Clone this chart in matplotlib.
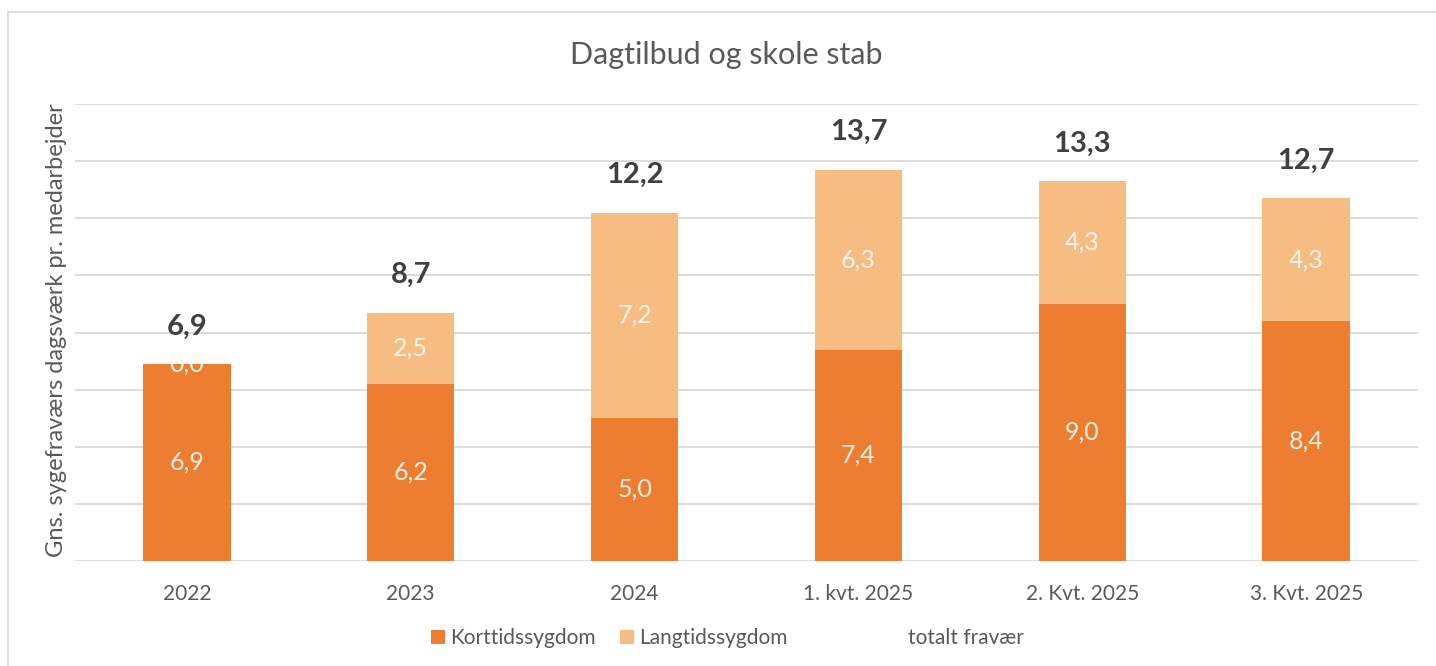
import matplotlib.pyplot as plt
from matplotlib.lines import Line2D
import numpy as np

plt.rcParams['font.family'] = ['Lato', 'DejaVu Sans']

categories = ['2022', '2023', '2024', '1. kvt. 2025', '2. Kvt. 2025', '3. Kvt. 2025']
kort = [6.9, 6.2, 5.0, 7.4, 9.0, 8.4]
lang = [0.0, 2.5, 7.2, 6.3, 4.3, 4.3]
total = [6.9, 8.7, 12.2, 13.7, 13.3, 12.7]

c_kort = '#ED7D31'
c_lang = '#F7BC82'
c_text = '#595959'


def fmt(v):
    return f'{v:.1f}'.replace('.', ',')


fig = plt.figure(figsize=(14.36, 6.66), dpi=100)
ax = fig.add_axes([0.0522, 0.1577, 0.9353, 0.6861])

x = np.arange(len(categories))
w = 0.39
b1 = ax.bar(x, kort, w, color=c_kort, label='Korttidssygdom', zorder=3)
b2 = ax.bar(x, lang, w, bottom=kort, color=c_lang, label='Langtidssygdom', zorder=3)
ax.bar_label(b1, labels=[fmt(v) for v in kort], label_type='center',
             color='#FFF2E6', fontsize=18, zorder=4)
ax.bar_label(b2, labels=[fmt(v) for v in lang], label_type='center',
             color='#FFF6EE', fontsize=18, zorder=4)

# totals series (no visible line, only labels)
ln, = ax.plot(x, total, linestyle='none', label='totalt fravær')
for xi, t in zip(x, total):
    ax.annotate(fmt(t), (xi, t), xytext=(0, 27), textcoords='offset points',
                ha='center', va='center', fontsize=21, fontweight='bold',
                color='#404040')

ax.set_xlim(-0.5, len(categories) - 0.5)
ax.set_ylim(0, 16)
ax.set_yticks(np.arange(0, 17, 2))
ax.yaxis.grid(True, color='#D9D9D9', linewidth=1.3, zorder=0)
ax.tick_params(axis='y', left=False, labelleft=False)
ax.tick_params(axis='x', bottom=False, labelsize=15, labelcolor=c_text, pad=13)
ax.set_xticks(x)
ax.set_xticklabels(categories)
for s in ax.spines.values():
    s.set_visible(False)

ax.set_ylabel('Gns. sygefraværs dagsværk pr. medarbejder', fontsize=17,
              color=c_text)
ax.yaxis.set_label_coords(-0.006, 0.505)

fig.text(0.506, 0.917, 'Dagtilbud og skole stab', ha='center', va='center',
         fontsize=22, color=c_text)

fig.legend(handles=[b1, b2], loc='center', bbox_to_anchor=(0.4245, 0.042),
           ncol=2, frameon=False, fontsize=15, labelcolor=c_text,
           handlelength=0.67, handleheight=0.67, handletextpad=0.25,
           columnspacing=1.15)
fig.legend(handles=[ln], loc='center', bbox_to_anchor=(0.6727, 0.042),
           frameon=False, fontsize=15, labelcolor=c_text,
           handlelength=0, handletextpad=0)

# chart area border (left and top)
fig.add_artist(Line2D([0.0056, 0.0056], [0.0, 0.982], color='#D9D9D9', lw=1.2))
fig.add_artist(Line2D([0.0056, 1.0], [0.982, 0.982], color='#D9D9D9', lw=1.2))

fig.savefig('out.png', dpi=100)
